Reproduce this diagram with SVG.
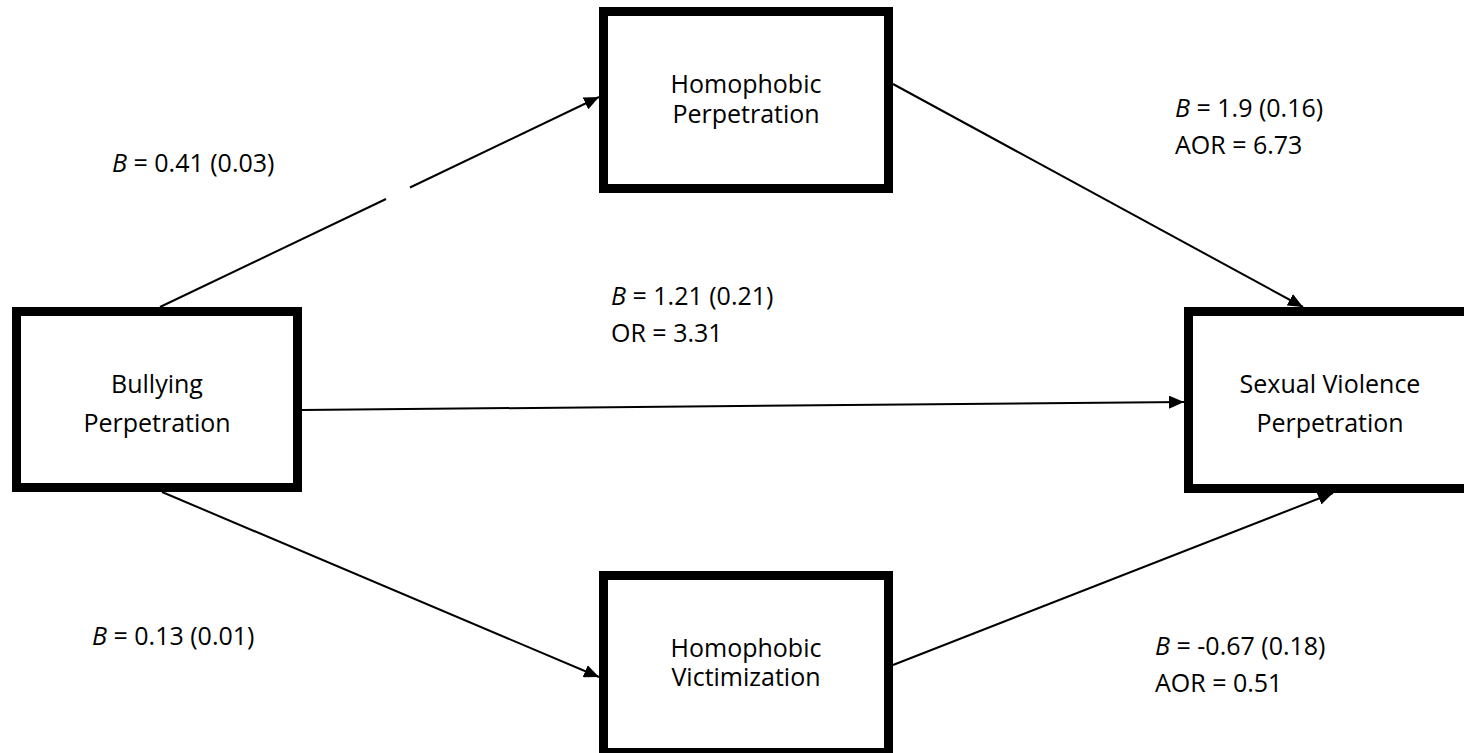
<svg xmlns="http://www.w3.org/2000/svg" width="1464" height="753" viewBox="0 0 1464 753">
<style>
.box{fill:#fff;stroke:#000;stroke-width:9}
.edge{stroke:#000;stroke-width:2;fill:none}
text{font-family:"Open Sans","Liberation Sans",sans-serif;font-size:25px;fill:#000}
.c{text-anchor:middle}
.i{font-style:italic}
</style>
<defs>
<marker id="ah" markerUnits="userSpaceOnUse" markerWidth="15" markerHeight="13" refX="15" refY="6.5" orient="auto">
<path d="M0,0 L15,6.5 L0,13 z" fill="#000"/>
</marker>
</defs>
<g id="connectors">
<line class="edge" x1="160" y1="307" x2="386" y2="199"/>
<line class="edge" x1="410" y1="187.5" x2="599" y2="97" marker-end="url(#ah)"/>
<line class="edge" x1="893" y1="84" x2="1303" y2="307" marker-end="url(#ah)"/>
<line class="edge" x1="302" y1="410" x2="1184" y2="402" marker-end="url(#ah)"/>
<line class="edge" x1="162" y1="492" x2="599" y2="677" marker-end="url(#ah)"/>
<line class="edge" x1="893" y1="665" x2="1333" y2="493" marker-end="url(#ah)"/>
</g>
<g id="homophobic-perpetration">
<rect class="box" x="603.5" y="11.5" width="285" height="177"/>
<text class="c" x="746" y="93">Homophobic</text>
<text class="c" x="746" y="123">Perpetration</text>
</g>
<g id="bullying-perpetration">
<rect class="box" x="16.5" y="311.5" width="281" height="176"/>
<text class="c" x="157" y="393">Bullying</text>
<text class="c" x="157" y="432">Perpetration</text>
</g>
<g id="sexual-violence-perpetration">
<rect class="box" x="1188.5" y="311.5" width="283" height="177"/>
<text class="c" x="1330" y="393">Sexual Violence</text>
<text class="c" x="1330" y="432">Perpetration</text>
</g>
<g id="homophobic-victimization">
<rect class="box" x="603.5" y="575.5" width="285" height="177"/>
<text class="c" x="746" y="657">Homophobic</text>
<text class="c" x="746" y="686">Victimization</text>
</g>
<g id="labels">
<text x="112" y="172"><tspan class="i">B</tspan> = 0.41 (0.03)</text>
<text x="611" y="305"><tspan class="i">B</tspan> = 1.21 (0.21)</text>
<text x="611" y="342">OR = 3.31</text>
<text x="1175" y="117"><tspan class="i">B</tspan> = 1.9 (0.16)</text>
<text x="1175" y="154">AOR = 6.73</text>
<text x="1155" y="655"><tspan class="i">B</tspan> = -0.67 (0.18)</text>
<text x="1155" y="692">AOR = 0.51</text>
<text x="92" y="645"><tspan class="i">B</tspan> = 0.13 (0.01)</text>
</g>
</svg>
